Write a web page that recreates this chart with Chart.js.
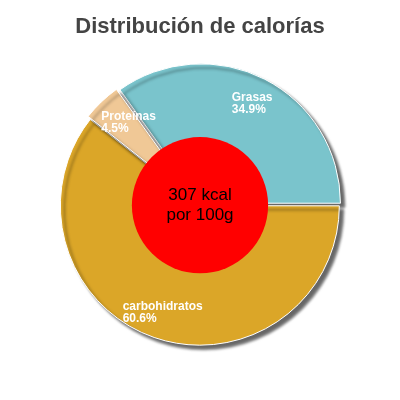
<!DOCTYPE html>
<html><head><meta charset="utf-8">
<script src="https://cdn.jsdelivr.net/npm/chart.js@4"></script>
<style>html,body{margin:0;background:#fff}#w{width:400px;height:400px}</style>
</head><body><div id="w"><canvas id="c"></canvas></div>
<script>
const categories = ["Grasas", "carbohidratos", "Proteínas"];
const values = [34.9, 60.6, 4.5];
const colors = ["#7ac4cc", "#dba628", "#f0c896"];
const centerText = ["307 kcal", "por 100g"];

const decor = {
  id: 'decor',
  beforeDatasetsDraw(chart) {
    const c = chart.ctx; c.save();
    c.shadowColor = 'rgba(0,0,0,0.6)'; c.shadowOffsetX = 4; c.shadowOffsetY = 4; c.shadowBlur = 3;
  },
  afterDatasetsDraw(chart) {
    const c = chart.ctx; c.restore();
    const arcs = chart.getDatasetMeta(0).data;
    const a0 = arcs[1];
    const cx = chart.chartArea.left + (chart.chartArea.right - chart.chartArea.left) / 2;
    const cy = chart.chartArea.top + (chart.chartArea.bottom - chart.chartArea.top) / 2;
    c.save();
    c.beginPath(); c.arc(cx, cy, a0.outerRadius * 0.49, 0, Math.PI * 2);
    c.fillStyle = '#ff0000'; c.fill();
    c.fillStyle = '#000'; c.font = '17px "Liberation Sans", Arial'; c.textAlign = 'center'; c.textBaseline = 'middle';
    c.fillText(centerText[0], cx, cy - 10); c.fillText(centerText[1], cx, cy + 10);
    c.fillStyle = '#fff'; c.font = 'bold 12px "Liberation Sans", Arial'; c.textAlign = 'left';
    arcs.forEach((a, i) => {
      const mid = (a.startAngle + a.endAngle) / 2;
      const r = a.outerRadius * 0.82;
      let x = a.x + Math.cos(mid) * r, y = a.y + Math.sin(mid) * r;
      const w = c.measureText(categories[i]).width;
      x -= w / 2;
      if (i === 2) { x = a.x + Math.cos(mid) * r - 20; }
      c.fillText(categories[i], x, y - 6);
      c.fillText(values[i].toFixed(1) + '%', x, y + 6);
    });
    c.restore();
  }
};

new Chart(document.getElementById('c'), {
  type: 'pie',
  data: { labels: categories, datasets: [{ data: values, backgroundColor: colors, borderColor: '#fff', borderWidth: 1, offset: [9, 2, 9], hoverOffset: 0 }] },
  options: {
    responsive: true, maintainAspectRatio: false, animation: false,
    rotation: -35.6,
    layout: { padding: { top: 12, bottom: 40, left: 56, right: 56 } },
    plugins: {
      legend: { display: false }, tooltip: { enabled: false },
      title: { display: true, text: 'Distribución de calorías', color: '#444', font: { size: 22, weight: 'bold', family: '"Liberation Sans", Arial' }, padding: { top: 2, bottom: 10 } }
    }
  },
  plugins: [decor]
});
</script></body></html>
